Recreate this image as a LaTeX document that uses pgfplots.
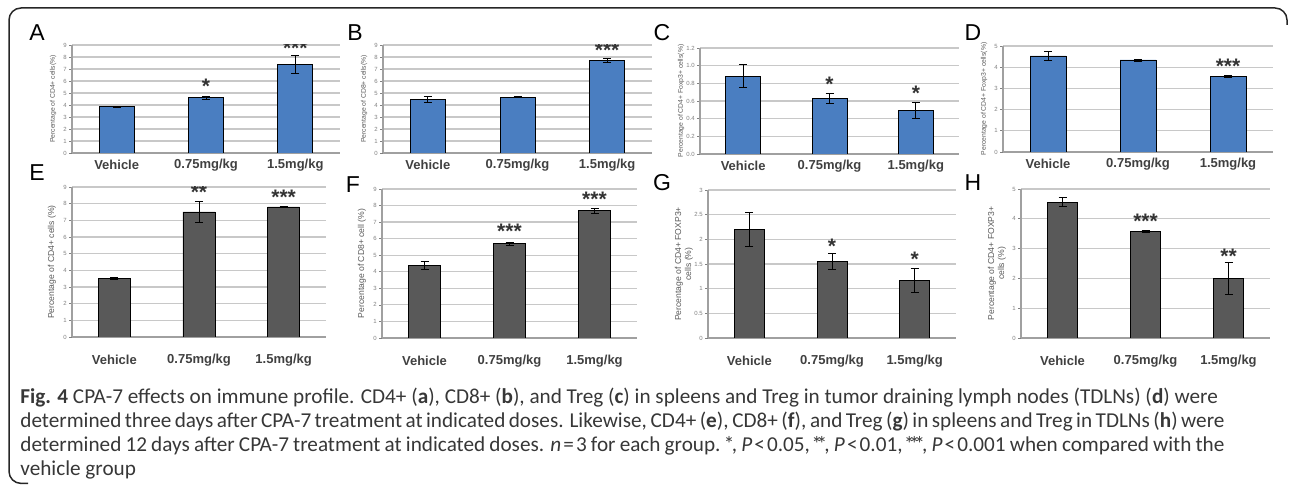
\documentclass[border=0pt]{standalone}
\usepackage{fontspec}
\setmainfont{Liberation Sans}
\newfontfamily\capfont{Carlito}
\usepackage{pgfplots}
\pgfplotsset{compat=1.18}
\definecolor{barblue}{RGB}{74,126,193}
\definecolor{bargray}{RGB}{89,89,89}
\definecolor{gridgray}{RGB}{200,200,200}
\definecolor{capgray}{RGB}{55,55,55}
\newcommand{\as}{\kern-0.13em*\kern-0.13em}

\pgfplotsset{
  panel/.style={
    scale only axis, anchor=south west,
    ybar, bar shift=0pt,
    xmin=-0.5, xmax=2.5, ymin=0,
    xtick={0,1,2}, xticklabels={Vehicle,0.75mg/kg,1.5mg/kg},
    axis x line*=bottom, axis y line*=left,
    axis line style={gridgray!80!black, line width=0.6pt},
    ymajorgrids, grid style={gridgray, line width=0.6pt},
    xtick style={draw=none},
    ytick style={draw=gray, line width=0.3pt},
    tick align=outside, major tick length=1.5pt,
    /pgf/number format/assume math mode=true,
    yticklabel style={font=\fontsize{3}{3}\selectfont, text=gray, inner sep=1pt},
    ylabel style={at={(axis description cs:0,0.5)}, anchor=center, text=black!65, align=center},
    every axis plot/.append style={error bars/y dir=both, error bars/y explicit},
  },
  toprow/.style={panel,
    height=54pt, bar width=17.5pt,
    xticklabel style={font=\bfseries\fontsize{6.5}{7}\selectfont, text=black!75, anchor=center, yshift=-4.5pt},
    ylabel style={font=\fontsize{3.4}{4}\selectfont, yshift=9.5pt},
    cycle list={{fill=barblue, draw=none,
      error bars/error bar style={line width=1pt, black!85},
      error bars/error mark options={rotate=90, mark size=1.5pt, line width=0.8pt, black!85}}},
  },
  botrow/.style={panel,
    height=74.5pt, bar width=16pt,
    xticklabel style={font=\bfseries\fontsize{6.5}{7}\selectfont, text=black!75, anchor=center, yshift=-10pt},
    ylabel style={font=\fontsize{4.3}{5}\selectfont, yshift=10pt},
    cycle list={{fill=bargray, draw=none,
      error bars/error bar style={line width=0.5pt, black},
      error bars/error mark options={rotate=90, mark size=1.5pt, line width=0.5pt, black}}},
  },
}
\tikzset{stars/.style={font=\bfseries\fontsize{10.5}{10}\selectfont, text=black!80, anchor=center, inner sep=0pt}}

\begin{document}
\begin{tikzpicture}

% frame
\draw[black!85, line width=0.75pt, rounded corners=6pt]
  (14pt,0.8pt) -- (4.5pt,0.8pt) -- (4.5pt,238.5pt) -- (643.5pt,238.5pt) -- (643.5pt,230pt);

% panel letters
\foreach \l/\x/\y in {A/18.5/226, B/177.5/226, C/331/226, D/486.5/226,
                      E/18.5/156, F/176.5/150, G/331/151, H/486.5/151}
  \node[font=\fontsize{11.5}{12}\selectfont] at (\x pt,\y pt) {\l};

% A
\begin{axis}[toprow, at={(36pt,166pt)}, width=134pt,
  ymax=9, ytick={0,1,...,9}, ylabel={Percentage of CD4+ cells(\%)}]
  \addplot coordinates {(0,3.85) +- (0,0.05) (1,4.6) +- (0,0.15) (2,7.4) +- (0,0.75)};
  \node[stars] at (axis cs:1,5.6) {*};
  \node[stars] at (axis cs:2,8.7) {***};
\end{axis}

% B
\begin{axis}[toprow, at={(191.5pt,166pt)}, width=134.5pt,
  ymax=9, ytick={0,1,...,9}, ylabel={Percentage of CD8+ cells(\%)}]
  \addplot coordinates {(0,4.45) +- (0,0.25) (1,4.65) +- (0,0.05) (2,7.7) +- (0,0.15)};
  \node[stars] at (axis cs:2,8.6) {***};
\end{axis}

% C
\begin{axis}[toprow, at={(350pt,165.5pt)}, width=129.5pt, height=53pt,
  ymax=1.2, ytick={0,0.2,...,1.2},
  yticklabel style={/pgf/number format/.cd, fixed, fixed zerofill, precision=1},
  ylabel={Percentage of CD4+ Foxp3+ cells(\%)}]
  \addplot coordinates {(0,0.88) +- (0,0.13) (1,0.63) +- (0,0.06) (2,0.49) +- (0,0.09)};
  \node[stars] at (axis cs:1,0.79) {*};
  \node[stars] at (axis cs:2,0.69) {*};
\end{axis}

% D
\begin{axis}[toprow, at={(501.5pt,166.5pt)}, width=135pt, height=53pt, bar width=18pt,
  ymax=5, ytick={0,1,...,5}, ylabel={Percentage of CD4+ Foxp3+ cells(\%)}]
  \addplot coordinates {(0,4.53) +- (0,0.2) (1,4.34) +- (0,0.05) (2,3.58) +- (0,0.05)};
  \node[stars] at (axis cs:2,4.06) {***};
\end{axis}

% E
\begin{axis}[botrow, at={(36pt,74pt)}, width=127pt, height=75pt,
  ymax=9, ytick={0,1,...,9}, ylabel={Percentage of CD4+ cells (\%)}]
  \addplot coordinates {(0,3.5) +- (0,0.05) (1,7.5) +- (0,0.65) (2,7.8) +- (0,0.05)};
  \node[stars] at (axis cs:1,8.7) {**};
  \node[stars] at (axis cs:2,8.4) {***};
\end{axis}

% F
\begin{axis}[botrow, at={(191pt,73.5pt)}, width=127.5pt,
  ymax=9, ytick={0,1,...,9}, ylabel={Percentage of CD8+ cell (\%)}]
  \addplot coordinates {(0,4.4) +- (0,0.25) (1,5.7) +- (0,0.1) (2,7.7) +- (0,0.15)};
  \node[stars] at (axis cs:1,6.45) {***};
  \node[stars] at (axis cs:2,8.4) {***};
\end{axis}

% G
\begin{axis}[botrow, at={(354pt,73.5pt)}, width=124pt, height=74pt, bar width=15pt,
  ymax=3, ytick={0,0.5,...,3}, ylabel style={yshift=2pt},
  ylabel={Percentage of CD4+ FOXP3+\\cells (\%)}]
  \addplot coordinates {(0,2.2) +- (0,0.35) (1,1.55) +- (0,0.16) (2,1.17) +- (0,0.24)};
  \node[stars] at (axis cs:1,1.86) {*};
  \node[stars] at (axis cs:2,1.6) {*};
\end{axis}

% H
\begin{axis}[botrow, at={(510.5pt,73.5pt)}, width=124.5pt, bar width=15pt,
  ymax=5, ytick={0,1,...,5}, ylabel style={yshift=2pt},
  ylabel={Percentage of CD4+ FOXP3+\\cells (\%)}]
  \addplot coordinates {(0,4.56) +- (0,0.15) (1,3.59) +- (0,0.03) (2,2.0) +- (0,0.53)};
  \node[stars] at (axis cs:1,3.93) {***};
  \node[stars] at (axis cs:2,2.75) {**};
\end{axis}

% caption (lines 2 and 3 justified to the text width)
\begin{scope}[every node/.style={anchor=base west, inner sep=0pt, text=capgray,
    font=\capfont\fontsize{10.6}{12}\selectfont}]
\node at (10pt,40.5pt) {\textbf{Fig. 4} CPA-7 effects on immune profile. CD4+ (\textbf{a}), CD8+ (\textbf{b}), and Treg (\textbf{c}) in spleens and Treg in tumor draining lymph nodes (TDLNs) (\textbf{d}) were};
\node at (10pt,28.5pt) {\makebox[602pt][s]{determined three days after CPA-7 treatment at indicated doses. Likewise, CD4+ (\textbf{e}), CD8+ (\textbf{f}), and Treg (\textbf{g}) in spleens and Treg in TDLNs (\textbf{h}) were}};
\node at (10pt,16.5pt) {\makebox[602pt][s]{determined 12 days after CPA-7 treatment at indicated doses. \textit{n}\kern0.1em=\kern0.1em3 for each group. \as, \textit{P}\kern0.1em<\kern0.1em0.05, \as\as, \textit{P}\kern0.1em<\kern0.1em0.01, \as\as\as, \textit{P}\kern0.1em<\kern0.1em0.001 when compared with the}};
\node at (10pt,4.5pt) {vehicle group};
\end{scope}

\pgfresetboundingbox
\path (0pt,0pt) rectangle (645pt,242.5pt);
\end{tikzpicture}
\end{document}
